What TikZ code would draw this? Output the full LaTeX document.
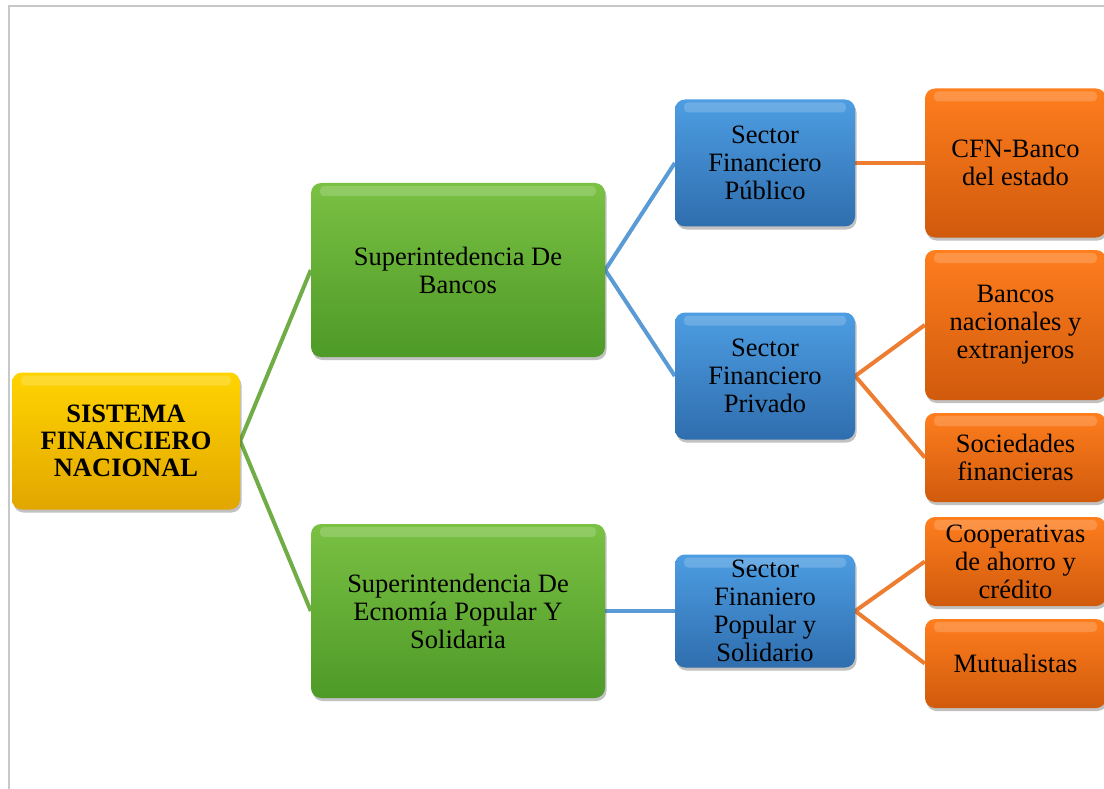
\documentclass[tikz,border=0pt]{standalone}
\usepackage{fontspec}
\setmainfont{Liberation Serif}
\usetikzlibrary{shadows,backgrounds}
\definecolor{yelT}{HTML}{FFD400}
\definecolor{yelB}{HTML}{E2A600}
\definecolor{grnT}{HTML}{7AC143}
\definecolor{grnB}{HTML}{4E9A28}
\definecolor{bluT}{HTML}{4D9DE2}
\definecolor{bluB}{HTML}{2F6EAE}
\definecolor{orgT}{HTML}{FF7E1E}
\definecolor{orgB}{HTML}{D05A0C}
\definecolor{grnL}{HTML}{70AD47}
\definecolor{bluL}{HTML}{5B9BD5}
\definecolor{orgL}{HTML}{ED7D31}
\definecolor{frame}{HTML}{C8C8C8}
\tikzset{
  box/.style={rounded corners=10pt, align=center, inner sep=2pt,
    font=\fontsize{26.5}{28}\selectfont,
    drop shadow={shadow xshift=1.5pt, shadow yshift=-3pt, opacity=0.35, fill=black!70},
    path picture={\fill[white,opacity=0.18,rounded corners=4pt]
      ([xshift=9pt,yshift=-3pt]path picture bounding box.north west) rectangle
      ([xshift=-9pt,yshift=-13pt]path picture bounding box.north east);}},
  ybox/.style={box, top color=yelT, bottom color=yelB, minimum width=228pt, minimum height=137pt, font=\fontsize{26.5}{27}\selectfont\bfseries},
  gbox/.style={box, top color=grnT, bottom color=grnB, minimum width=294pt, minimum height=174pt},
  bbox/.style={box, top color=bluT, bottom color=bluB, minimum width=180pt},
  obox/.style={box, top color=orgT, bottom color=orgB, minimum width=181pt},
  gline/.style={draw=grnL, line width=4pt},
  bline/.style={draw=bluL, line width=4pt},
  oline/.style={draw=orgL, line width=4pt}
}
\begin{document}
\begin{tikzpicture}[x=1pt,y=-1pt]
\useasboundingbox (0,0) rectangle (1104,789);
\draw[frame, line width=1.8pt] (9,789) -- (9,6) -- (1110,6);
% level 0
\node[ybox] (sfn) at (126,441) {SISTEMA\\FINANCIERO\\NACIONAL};
% level 1
\node[gbox] (sb) at (458,270) {Superintedencia De\\Bancos};
\node[gbox] (seps) at (458,611) {Superintendencia De\\Ecnomía Popular Y\\Solidaria};
% level 2
\node[bbox, minimum height=127pt] (pub) at (765,163) {Sector\\Financiero\\Público};
\node[bbox, minimum height=127pt] (priv) at (765,376) {Sector\\Financiero\\Privado};
\node[bbox, minimum height=113pt] (pop) at (765,611) {Sector\\Finaniero\\Popular y\\Solidario};
% level 3
\node[obox, minimum height=149pt] (cfn) at (1015.5,163) {CFN-Banco\\del estado};
\node[obox, minimum height=150pt] (bnac) at (1015.5,325) {Bancos\\nacionales y\\extranjeros};
\node[obox, minimum height=89pt] (soc) at (1015.5,457.5) {Sociedades\\financieras};
\node[obox, minimum height=89pt] (coop) at (1015.5,561.5) {Cooperativas\\de ahorro y\\crédito};
\node[obox, minimum height=89pt] (mut) at (1015.5,663.5) {Mutualistas};
% connectors
\begin{scope}[on background layer]
\draw[gline] (sfn.east) -- (sb.west);
\draw[gline] (sfn.east) -- (seps.west);
\draw[bline] (sb.east) -- (pub.west);
\draw[bline] (sb.east) -- (priv.west);
\draw[bline] (seps.east) -- (pop.west);
\draw[oline] (pub.east) -- (cfn.west);
\draw[oline] (priv.east) -- (bnac.west);
\draw[oline] (priv.east) -- (soc.west);
\draw[oline] (pop.east) -- (coop.west);
\draw[oline] (pop.east) -- (mut.west);
\end{scope}
\end{tikzpicture}
\end{document}
